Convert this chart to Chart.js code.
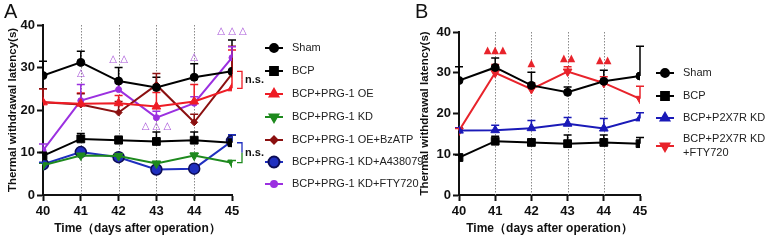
<!DOCTYPE html>
<html>
<head>
<meta charset="utf-8">
<script src="https://cdn.jsdelivr.net/npm/chart.js@4/dist/chart.umd.min.js"></script>
<style>
  html, body { margin: 0; padding: 0; background: #fff; }
  #wrap { position: relative; width: 771px; height: 240px; overflow: hidden; }
  #ca { position: absolute; left: 0; top: 0; }
  #cb { position: absolute; left: 390px; top: 0; }
</style>
</head>
<body>
<div id="wrap">
  <canvas id="ca" width="470" height="240"></canvas>
  <canvas id="cb" width="381" height="240"></canvas>
</div>
<script>
// ---- data ----
const days = [40, 41, 42, 43, 44, 45];
const dottedDays = [41, 42, 43, 44];
const yTicks = [0, 10, 20, 30, 40];

// panel A
const shamA = [28.1, 31.2, 26.8, 25.3, 27.7, 29.1];
const shamAErr = [3.4, 2.6, 3.2, 2.4, 3.2, 7.4];
const bcpA = [9.2, 13.2, 12.9, 12.6, 12.9, 12.3];
const bcpAErr = [0.8, 1.3, 0.9, 2.2, 1.9, 1.8];
const oeA = [21.8, 21.5, 21.6, 20.8, 22.0, 25.1];
const oeAErr = [3.2, 2.5, 1.8, 3.3, 4.0, 9.0];
const kdA = [7.0, 9.3, 9.2, 7.4, 9.3, 7.6];
const kdAErr = [0.5, 0.6, 0.5, 0.5, 0.5, 0.5];
const bzA = [21.8, 21.3, 19.4, 25.9, 17.1, 28.5];
const bzAErr = [3.2, 2.5, 2.6, 2.7, 1.9, 6.5];
const a43A = [7.2, 10.1, 8.9, 6.0, 6.2, 12.7];
const a43AErr = [0.5, 0.6, 0.5, 0.4, 0.4, 1.5];
const ftyA = [10.5, 22.2, 24.8, 18.2, 21.6, 32.3];
const ftyAErr = [1.5, 3.8, 1.5, 1.5, 1.5, 2.6];
const marksA = [
  { x: 41, y: 28.6, t: "△" },
  { x: 42, y: 31.8, t: "△ △" },
  { x: 43, y: 16.2, t: "△ △ △" },
  { x: 44, y: 32.4, t: "△" },
  { x: 45, y: 38.4, t: "△ △ △" },
];

// panel B
const shamB = [28.1, 31.3, 26.9, 25.2, 27.9, 29.2];
const shamBErr = [3.4, 2.3, 3.2, 1.3, 2.7, 7.3];
const bcpB = [9.2, 13.2, 12.9, 12.6, 12.9, 12.6];
const bcpBErr = [0.6, 1.2, 0.7, 2.1, 1.8, 1.5];
const p2B = [15.8, 15.9, 16.4, 17.5, 16.3, 18.8];
const p2BErr = [0.7, 1.2, 1.9, 1.5, 2.5, 1.4];
const ftyB = [15.8, 30.0, 26.0, 30.3, 27.5, 23.6];
const ftyBErr = [0.5, 2.0, 1.5, 1.2, 1.5, 3.1];
const marksB = [
  { x: 41, y: 35.6, t: "▲▲▲" },
  { x: 42, y: 32.3, t: "▲" },
  { x: 43, y: 33.5, t: "▲▲" },
  { x: 44, y: 33.0, t: "▲▲" },
];

const FONT = "'Liberation Sans', Arial, sans-serif";
Chart.defaults.font.family = FONT;
Chart.defaults.color = "#111";

function pts(vals) {
  return vals.map((v, i) => ({ x: days[i], y: v }));
}

function series(label, vals, err, color, style, extra) {
  return Object.assign({
    label: label,
    data: pts(vals),
    err: err,
    borderColor: color,
    backgroundColor: color,
    pointBackgroundColor: color,
    pointBorderColor: color,
    borderWidth: 2,
    pointStyle: style,
    pointRadius: 4,
    pointBorderWidth: 1,
    pointRotation: 0,
  }, extra || {});
}

// error bars, dotted guide lines, annotations, brackets, legend
const extras = {
  id: "extras",
  beforeDatasetsDraw(chart, args, opts) {
    const { ctx, chartArea, scales } = chart;
    const x = scales.x, y = scales.y;
    ctx.save();
    ctx.strokeStyle = "#8a8a8a";
    ctx.lineWidth = 1;
    ctx.setLineDash([1.5, 1.5]);
    dottedDays.forEach(d => {
      const px = Math.round(x.getPixelForValue(d)) + 0.5;
      ctx.beginPath();
      ctx.moveTo(px, chartArea.top);
      ctx.lineTo(px, chartArea.bottom);
      ctx.stroke();
    });
    ctx.setLineDash([]);
    chart.data.datasets.forEach(ds => {
      ctx.strokeStyle = ds.borderColor;
      ctx.lineWidth = 1.5;
      ds.data.forEach((p, j) => {
        const px = x.getPixelForValue(p.x);
        const y0 = y.getPixelForValue(p.y);
        const y1 = y.getPixelForValue(p.y + ds.err[j]);
        ctx.beginPath();
        ctx.moveTo(px, y0);
        ctx.lineTo(px, y1);
        ctx.moveTo(px - 4, y1);
        ctx.lineTo(px + 4, y1);
        ctx.stroke();
      });
    });
    ctx.restore();
  },
  afterDatasetsDraw(chart, args, opts) {
    const { ctx, scales } = chart;
    const x = scales.x, y = scales.y;
    ctx.save();
    ctx.textAlign = "center";
    ctx.textBaseline = "middle";
    ctx.font = "10px 'DejaVu Sans', sans-serif";
    ctx.fillStyle = opts.markColor;
    opts.marks.forEach(m => {
      ctx.fillText(m.t, x.getPixelForValue(m.x), y.getPixelForValue(m.y));
    });
    (opts.brackets || []).forEach(b => {
      const dsA = chart.data.datasets[b.a], dsB = chart.data.datasets[b.b];
      const last = dsA.data.length - 1;
      const px = x.getPixelForValue(dsA.data[last].x);
      const ya = y.getPixelForValue(dsA.data[last].y);
      const yb = y.getPixelForValue(dsB.data[last].y);
      const ym = (ya + yb) / 2;
      const x0 = px + 5, x1 = px + 10;
      ctx.lineWidth = 1.3;
      ctx.strokeStyle = b.c1;
      ctx.beginPath();
      ctx.moveTo(x0, ya); ctx.lineTo(x1, ya); ctx.lineTo(x1, ym);
      ctx.stroke();
      ctx.strokeStyle = b.c2;
      ctx.beginPath();
      ctx.moveTo(x1, ym); ctx.lineTo(x1, yb); ctx.lineTo(x0, yb);
      ctx.stroke();
      ctx.fillStyle = "#111";
      ctx.textAlign = "left";
      ctx.font = "bold 11px " + FONT;
      ctx.fillText("n.s.", x1 + 3, ym);
    });
    ctx.restore();
  },
  afterDraw(chart, args, opts) {
    const ctx = chart.ctx;
    ctx.save();
    // panel letter
    ctx.fillStyle = "#111";
    ctx.font = "20px " + FONT;
    ctx.textAlign = "left";
    ctx.textBaseline = "top";
    ctx.fillText(opts.letter, opts.letterX, 2);
    // legend
    const L = opts.legend;
    ctx.font = "11px " + FONT;
    ctx.textBaseline = "middle";
    chart.data.datasets.forEach((ds, i) => {
      const cy = L.rows[i];
      ctx.strokeStyle = ds.borderColor;
      ctx.lineWidth = 2;
      ctx.beginPath();
      ctx.moveTo(L.x, cy);
      ctx.lineTo(L.x + 18, cy);
      ctx.stroke();
      ctx.fillStyle = ds.pointBackgroundColor;
      ctx.strokeStyle = ds.pointBorderColor;
      Chart.helpers.drawPoint(ctx, {
        pointStyle: ds.pointStyle,
        rotation: ds.pointRotation,
        radius: ds.pointRadius,
        borderWidth: ds.pointBorderWidth,
      }, L.x + 9, cy);
      ctx.fillStyle = "#222";
      const lines = ds.label.split("\n");
      lines.forEach((t, k) => {
        ctx.fillText(t, L.x + 27, cy + (k - (lines.length - 1) / 2) * 14);
      });
    });
    ctx.restore();
  },
};

function axes(yWidth) {
  const tickFont = { size: 13, weight: "bold", family: FONT };
  const titleFont = { size: 12, weight: "bold", family: FONT };
  return {
    x: {
      type: "linear", min: 40, max: 45,
      ticks: { stepSize: 1, font: tickFont, color: "#111", padding: 3 },
      grid: { drawOnChartArea: false, tickLength: 6, tickWidth: 2, tickColor: "#111" },
      border: { color: "#111", width: 2 },
      title: { display: true, text: "Time（days after operation）", font: titleFont, color: "#111", padding: 0 },
      afterFit(s) { s.height = 41; },
    },
    y: {
      min: 0, max: 40,
      afterBuildTicks(s) { s.ticks = yTicks.map(v => ({ value: v })); },
      ticks: { font: tickFont, color: "#111", padding: 2 },
      grid: { drawOnChartArea: false, tickLength: 6, tickWidth: 2, tickColor: "#111" },
      border: { color: "#111", width: 2 },
      title: { display: true, text: "Thermal withdrawal latency(s)", font: { size: 11.5, weight: "bold", family: FONT }, color: "#111", padding: 0 },
      afterFit(s) { s.width = yWidth; },
    },
  };
}

// panel A
new Chart(document.getElementById("ca"), {
  type: "line",
  data: {
    datasets: [
      series("Sham", shamA, shamAErr, "#000", "circle", { pointRadius: 4 }),
      series("BCP", bcpA, bcpAErr, "#000", "rect", { pointRadius: 5.5 }),
      series("BCP+PRG-1 OE", oeA, oeAErr, "#ee1c25", "triangle", { pointRadius: 5 }),
      series("BCP+PRG-1 KD", kdA, kdAErr, "#1e8a1e", "triangle", { pointRadius: 5, pointRotation: 180 }),
      series("BCP+PRG-1 OE+BzATP", bzA, bzAErr, "#8b1010", "rectRot", { pointRadius: 3.5 }),
      series("BCP+PRG-1 KD+A438079", a43A, a43AErr, "#1f2fbf", "circle", { pointRadius: 5.5, pointBorderColor: "#0c0c55", pointBorderWidth: 1.5 }),
      series("BCP+PRG-1 KD+FTY720", ftyA, ftyAErr, "#9b30e0", "circle", { pointRadius: 3 }),
    ],
  },
  options: {
    responsive: false,
    animation: false,
    layout: { padding: { left: 6, right: 238, top: 25, bottom: 4 } },
    plugins: {
      legend: { display: false },
      tooltip: { enabled: false },
      extras: {
        letter: "A", letterX: 4,
        marks: marksA, markColor: "#a855d8",
        brackets: [
          { a: 0, b: 2, c1: "#ee1c25", c2: "#ee1c25" },
          { a: 1, b: 3, c1: "#1f2fbf", c2: "#1e8a1e" },
        ],
        legend: { x: 265, rows: [48, 71, 94, 117, 140, 162, 184] },
      },
    },
    scales: axes(37),
  },
  plugins: [extras],
});

// panel B
new Chart(document.getElementById("cb"), {
  type: "line",
  data: {
    datasets: [
      series("Sham", shamB, shamBErr, "#000", "circle", { pointRadius: 4 }),
      series("BCP", bcpB, bcpBErr, "#000", "rect", { pointRadius: 5.5 }),
      series("BCP+P2X7R KD", p2B, p2BErr, "#1a1ab8", "triangle", { pointRadius: 5 }),
      series("BCP+P2X7R KD\n+FTY720", ftyB, ftyBErr, "#e8232b", "triangle", { pointRadius: 5, pointRotation: 180 }),
    ],
  },
  options: {
    responsive: false,
    animation: false,
    layout: { padding: { left: 28, right: 131, top: 32, bottom: 4 } },
    plugins: {
      legend: { display: false },
      tooltip: { enabled: false },
      extras: {
        letter: "B", letterX: 25,
        marks: marksB, markColor: "#e8232b",
        brackets: [],
        legend: { x: 266, rows: [73, 96, 118, 146] },
      },
    },
    scales: axes(41),
  },
  plugins: [extras],
});
</script>
</body>
</html>
